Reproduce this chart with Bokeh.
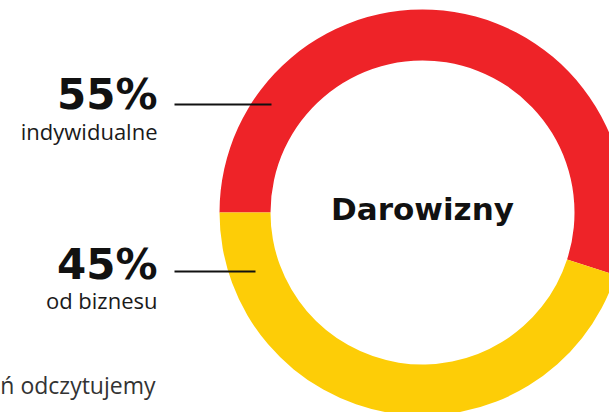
from bokeh.plotting import figure
from bokeh.models import Range1d
from bokeh.core.properties import value
from bokeh.embed import file_html
from bokeh.resources import INLINE
import math

# Data
categories = ["indywidualne", "od biznesu"]
shares = [55, 45]
pct_labels = ["55%", "45%"]
colors = ["#EE2328", "#FDCD07"]
center_label = "Darowizny"
footer_text = "ń odczytujemy"

W, H = 609, 412
p = figure(width=W, height=H, output_backend="svg", toolbar_location=None,
           x_range=Range1d(0, W), y_range=Range1d(0, H), min_border=0,
           outline_line_color=None, background_fill_color="white")
p.axis.visible = False
p.grid.visible = False

def sy(y):
    return H - y  # screen y -> data y

cx, cy = 422, sy(212)
r_in, r_out = 152, 203

# angles: start at 9 o'clock, go clockwise
start = math.pi
starts, ends = [], []
for s in shares:
    span = 2 * math.pi * s / sum(shares)
    starts.append(start)
    ends.append(start - span)
    start -= span

p.annular_wedge(x=[cx] * len(shares), y=[cy] * len(shares), inner_radius=r_in, outer_radius=r_out,
                start_angle=starts, end_angle=ends, direction="clock",
                fill_color=colors, line_color=None)

p.text(x=[cx], y=[sy(208)], text=[center_label], text_align="center", text_baseline="alphabetic",
       text_font=value("DejaVu Sans"), text_font_style="bold", text_font_size="31px", text_color="#111111")

# labels
pct_y = [sy(94), sy(264)]
sub_y = [sy(130), sy(299)]
line_y = [sy(104), sy(271)]
line_x1 = [271, 255]
p.text(x=[157, 157], y=pct_y, text=pct_labels, text_align="right", text_baseline="alphabetic",
       text_font=value("DejaVu Sans"), text_font_style="bold", text_font_size="42px", text_color="#111111")
p.text(x=[157, 157], y=sub_y, text=categories, text_align="right", text_baseline="alphabetic",
       text_font=value("Open Sans"), text_font_size="22px", text_color="#1a1a1a")
p.segment(x0=[174, 174], y0=line_y, x1=line_x1, y1=line_y, line_color="#111111", line_width=2)

p.text(x=[155], y=[sy(384)], text=[footer_text], text_align="right", text_baseline="alphabetic",
       text_font=value("Open Sans"), text_font_size="23px", text_color="#333333")

open("out.html", "w").write(file_html(p, INLINE))
